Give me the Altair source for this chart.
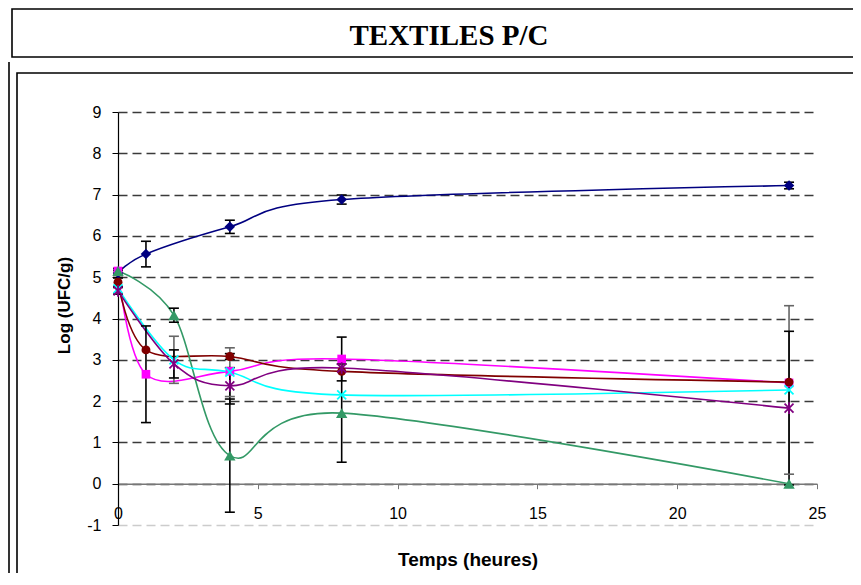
import altair as alt
import pandas as pd

# ---------------- data ----------------
series_names = ["S1", "S2", "S3", "S4", "S5", "S6"]
series_colors = ["#000080", "#FF00FF", "#800000", "#339966", "#00FFFF", "#800080"]
err_colors = ["#000000", "#000000", "#000000", "#000000", "#666666", "#000000"]

hours_a = [0, 1, 4, 8, 24]
hours_b = [0, 2, 4, 8, 24]

s1_y = [5.10, 5.56, 6.22, 6.88, 7.22]
s1_err = [0.06, 0.31, 0.16, 0.11, 0.08]

s2_y = [5.15, 2.65, 2.72, 3.02, 2.44]
s2_err = [0.06, 1.17, 0.0, 0.53, 0.0]

s3_y = [4.88, 3.24, 3.08, 2.72, 2.46]
s3_err = [0.10, 0.0, 0.07, 0.0, 0.0]

s4_y = [5.15, 4.08, 0.68, 1.71, 0.0]
s4_err = [0.06, 0.17, 1.37, 1.19, 0.0]

s5_y = [4.72, 3.00, 2.70, 2.15, 2.27]
s5_err = [0.0, 0.57, 0.59, 0.0, 2.04]

s6_y = [4.67, 2.90, 2.37, 2.80, 1.83]
s6_err = [0.08, 0.34, 0.44, 0.0, 1.86]

y_ticks = [-1, 0, 1, 2, 3, 4, 5, 6, 7, 8, 9]
x_ticks = [0, 5, 10, 15, 20, 25]

title_text = "TEXTILES P/C"
x_title = "Temps (heures)"
y_title = "Log (UFC/g)"

# marker styles per series
marker_shapes = ["diamond", "square", "circle", "triangle-up",
                 "M-1,-1L1,1M-1,1L1,-1",
                 "M-1,-1L1,1M-1,1L1,-1M0,-1.3L0,1.3"]
marker_filled = [True, True, True, True, False, False]
marker_sizes = [110, 75, 80, 130, 80, 80]

# ---------------- tables ----------------
all_x = [hours_a, hours_a, hours_a, hours_b, hours_b, hours_b]
all_y = [s1_y, s2_y, s3_y, s4_y, s5_y, s6_y]
all_e = [s1_err, s2_err, s3_err, s4_err, s5_err, s6_err]

rows = []
for i, name in enumerate(series_names):
    for xv, yv, ev in zip(all_x[i], all_y[i], all_e[i]):
        rows.append({"series": name, "x": xv, "y": yv, "err": ev,
                     "lo": yv - ev, "hi": yv + ev, "ecol": err_colors[i]})
df = pd.DataFrame(rows)
df_err = df[df["err"] > 0]

W, H = 699, 413
xs = alt.Scale(domain=[0, 25], nice=False, zero=False)
ys = alt.Scale(domain=[-1, 9], nice=False, zero=False)
col_scale = alt.Scale(domain=series_names, range=series_colors)

x_axis = alt.Axis(values=x_ticks, title=x_title, offset=-H / 10, grid=False,
                  domainColor="#777777", domainWidth=1.5, tickColor="#777777",
                  tickSize=5, labelPadding=17, labelFontSize=16, labelFlush=False,
                  labelFont="Liberation Sans", labelColor="black",
                  labelExpr="'' + datum.value",
                  titleFont="Liberation Sans", titleFontSize=19, titleFontWeight="bold",
                  titleColor="black", titleY=76, titleBaseline="middle")
y_axis = alt.Axis(values=y_ticks, title=y_title, grid=True,
                  gridDash=[9, 5], gridWidth=1.3,
                  gridColor=alt.condition(alt.datum.value == -1, alt.value("#cccccc"), alt.value("#3a3a3a")),
                  domainColor="black", domainWidth=1.2, tickColor="black", tickSize=6,
                  labelPadding=11, labelFontSize=16, labelFont="Liberation Sans",
                  labelColor="black", labelFlush=False,
                  labelExpr="'' + datum.value",
                  titleFont="Liberation Sans", titleFontSize=17, titleFontWeight="bold",
                  titleColor="black", titleX=-54, titleY=193, titleAngle=270,
                  titleAlign="center", titleBaseline="middle")

base = alt.Chart(df)

lines = base.mark_line(interpolate="cardinal", strokeWidth=1.6).encode(
    x=alt.X("x:Q", scale=xs, axis=x_axis),
    y=alt.Y("y:Q", scale=ys, axis=y_axis),
    color=alt.Color("series:N", scale=col_scale, legend=None),
    detail="series:N",
)

err_rule = alt.Chart(df_err).mark_rule(strokeWidth=1.6).encode(
    x=alt.X("x:Q", scale=xs), y=alt.Y("lo:Q", scale=ys), y2="hi:Q",
    color=alt.Color("ecol:N", scale=None),
)
err_cap_lo = alt.Chart(df_err).mark_rule(strokeWidth=1.6, xOffset=-5, x2Offset=5).encode(
    x=alt.X("x:Q", scale=xs), x2="x:Q", y=alt.Y("lo:Q", scale=ys),
    color=alt.Color("ecol:N", scale=None),
)
err_cap_hi = alt.Chart(df_err).mark_rule(strokeWidth=1.6, xOffset=-5, x2Offset=5).encode(
    x=alt.X("x:Q", scale=xs), x2="x:Q", y=alt.Y("hi:Q", scale=ys),
    color=alt.Color("ecol:N", scale=None),
)

point_layers = []
for i, name in enumerate(series_names):
    if marker_filled[i]:
        mk = alt.Chart(df).mark_point(shape=marker_shapes[i], filled=True,
                                      size=marker_sizes[i], opacity=1,
                                      color=series_colors[i])
    else:
        mk = alt.Chart(df).mark_point(shape=marker_shapes[i], filled=False,
                                      size=marker_sizes[i], opacity=1, strokeWidth=1.8,
                                      color=series_colors[i])
    point_layers.append(
        mk.transform_filter(alt.datum.series == name).encode(
            x=alt.X("x:Q", scale=xs), y=alt.Y("y:Q", scale=ys))
    )

one = pd.DataFrame({"a": [0]})
title_box = alt.Chart(one).mark_rect(fill="white", fillOpacity=0, stroke="black", strokeWidth=1.6).encode(
    x=alt.value(-106), x2=alt.value(800), y=alt.value(-103), y2=alt.value(-55))
chart_box = alt.Chart(one).mark_rect(fill="white", fillOpacity=0, stroke="black", strokeWidth=1.6).encode(
    x=alt.value(-101), x2=alt.value(800), y=alt.value(-39), y2=alt.value(520))
left_line = alt.Chart(one).mark_rule(stroke="black", strokeWidth=1.6).encode(
    x=alt.value(-109), y=alt.value(-50), y2=alt.value(520))
title_mark = alt.Chart(one).mark_text(
    text=title_text, font="Liberation Serif", fontSize=29, fontWeight="bold",
    color="black", align="center", baseline="middle").encode(
    x=alt.value(331), y=alt.value(-76))

chart = alt.layer(
    title_box, chart_box, left_line, title_mark,
    lines, err_rule, err_cap_lo, err_cap_hi, *point_layers,
).properties(
    width=W, height=H,
    autosize=alt.AutoSizeParams(type="none"),
    padding={"left": 110, "top": 104, "right": 36, "bottom": 48},
    background="white",
).configure_view(stroke=None)

chart.save("out.html", embed_options={"renderer": "svg", "actions": False})
